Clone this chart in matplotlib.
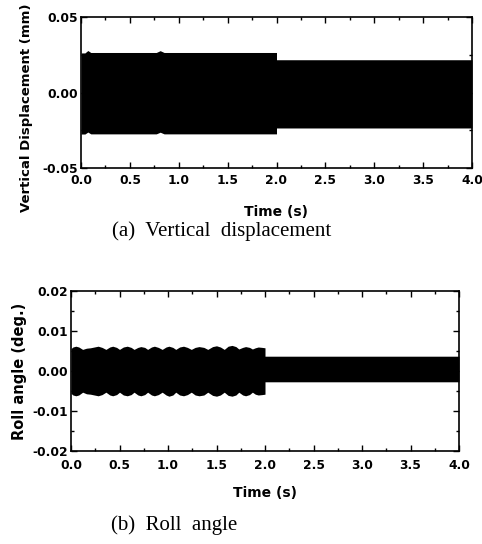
import matplotlib
matplotlib.use('Agg')
import matplotlib.pyplot as plt
from matplotlib.ticker import MultipleLocator, FormatStrFormatter

plt.rcParams['font.family'] = ['DejaVu Sans']

# (a) vertical displacement: envelope of the dense oscillation (mm)
disp_t = [0.0, 0.04, 0.07, 0.10, 0.77, 0.81, 0.85, 2.0, 2.0, 4.0]
disp_upper = [0.0262, 0.0262, 0.0278, 0.0265, 0.0265, 0.0277, 0.0265, 0.0265, 0.0217, 0.0217]
disp_lower = [-0.0275, -0.0275, -0.0262, -0.0274, -0.0274, -0.0263, -0.0274, -0.0274, -0.0235, -0.0235]

# (b) roll angle: envelope of the dense oscillation (deg.)
roll_t = [0.0, 0.02, 0.05, 0.08, 0.12, 0.16, 0.20, 0.24, 0.28, 0.32, 0.36, 0.40, 0.43, 0.47,
          0.50, 0.54, 0.58, 0.62, 0.65, 0.69, 0.72, 0.76, 0.79, 0.83, 0.86, 0.90, 0.94, 0.98,
          1.01, 1.05, 1.08, 1.12, 1.16, 1.20, 1.24, 1.28, 1.32, 1.37, 1.41, 1.46, 1.50, 1.54,
          1.58, 1.62, 1.66, 1.70, 1.73, 1.77, 1.80, 1.84, 1.87, 1.90, 1.93, 1.97, 2.0, 2.0, 4.0]
roll_upper = [0.0056, 0.0060, 0.0062, 0.0060, 0.0054, 0.0057, 0.0058, 0.0060, 0.0062, 0.0059, 0.0054, 0.0060, 0.0062, 0.0059,
              0.0054, 0.0060, 0.0062, 0.0059, 0.0054, 0.0059, 0.0061, 0.0059, 0.0054, 0.0060, 0.0062, 0.0059, 0.0054, 0.0060,
              0.0062, 0.0059, 0.0054, 0.0060, 0.0062, 0.0059, 0.0054, 0.0059, 0.0061, 0.0059, 0.0054, 0.0061, 0.0063, 0.0060,
              0.0054, 0.0062, 0.0064, 0.0061, 0.0055, 0.0059, 0.0061, 0.0059, 0.0055, 0.0058, 0.0060, 0.0059, 0.0058, 0.0037, 0.0037]
roll_lower = [-0.0056, -0.0060, -0.0062, -0.0060, -0.0053, -0.0057, -0.0058, -0.0060, -0.0062, -0.0059, -0.0053, -0.0060, -0.0062, -0.0059,
              -0.0053, -0.0060, -0.0062, -0.0059, -0.0053, -0.0060, -0.0062, -0.0059, -0.0053, -0.0060, -0.0062, -0.0059, -0.0053, -0.0060,
              -0.0063, -0.0060, -0.0053, -0.0060, -0.0062, -0.0059, -0.0053, -0.0060, -0.0062, -0.0060, -0.0053, -0.0061, -0.0063, -0.0060,
              -0.0053, -0.0061, -0.0063, -0.0060, -0.0053, -0.0060, -0.0062, -0.0059, -0.0053, -0.0058, -0.0060, -0.0059, -0.0058, -0.0027, -0.0027]

fig = plt.figure(figsize=(4.82, 5.44), dpi=100)
W, H = 482.0, 544.0


def make_axes(left, top, right, bottom):
    return fig.add_axes([left / W, 1 - bottom / H, (right - left) / W, (bottom - top) / H])


def style(ax, ymaj, ymin, ylim, xpad, xlabpad):
    ax.set_xlim(0, 4)
    ax.set_ylim(*ylim)
    ax.xaxis.set_major_locator(MultipleLocator(0.5))
    ax.xaxis.set_minor_locator(MultipleLocator(0.25))
    ax.yaxis.set_major_locator(MultipleLocator(ymaj))
    ax.yaxis.set_minor_locator(MultipleLocator(ymin))
    ax.xaxis.set_major_formatter(FormatStrFormatter('%.1f'))
    ax.yaxis.set_major_formatter(FormatStrFormatter('%.2f'))
    ax.tick_params(which='both', direction='in', top=True, right=True, width=1.0)
    ax.tick_params(which='major', length=4, labelsize=8.8)
    ax.tick_params(axis='x', which='major', pad=xpad)
    ax.tick_params(axis='y', which='major', pad=2)
    ax.tick_params(which='minor', length=2.5)
    for lab in ax.get_xticklabels() + ax.get_yticklabels():
        lab.set_fontweight('bold')
    for s in ax.spines.values():
        s.set_linewidth(1.2)
    ax.set_xlabel('Time (s)', fontsize=10, fontweight='bold', labelpad=xlabpad)


ax1 = make_axes(81, 17, 472, 168)
ax1.fill_between(disp_t, disp_lower, disp_upper, color='black', linewidth=0)
style(ax1, 0.05, 0.025, (-0.05, 0.05), 4.5, 13)
ax1.set_ylabel('Vertical Displacement (mm)', fontsize=9.5, fontweight='bold')
ax1.yaxis.set_label_coords(-0.123, 0.40)

ax2 = make_axes(71, 291, 459, 451)
ax2.fill_between(roll_t, roll_lower, roll_upper, color='black', linewidth=0)
style(ax2, 0.01, 0.005, (-0.02, 0.02), 6, 10)
ax2.set_ylabel('Roll angle (deg.)', fontsize=10.5, fontweight='bold')
ax2.yaxis.set_label_coords(-0.113, 0.5)

fig.text(222 / W, 1 - 231 / H, '(a)  Vertical  displacement', ha='center', va='center',
         family='Liberation Serif', fontsize=15)
fig.text(174 / W, 1 - 525 / H, '(b)  Roll  angle', ha='center', va='center',
         family='Liberation Serif', fontsize=15)

fig.savefig('out.png', dpi=100)
